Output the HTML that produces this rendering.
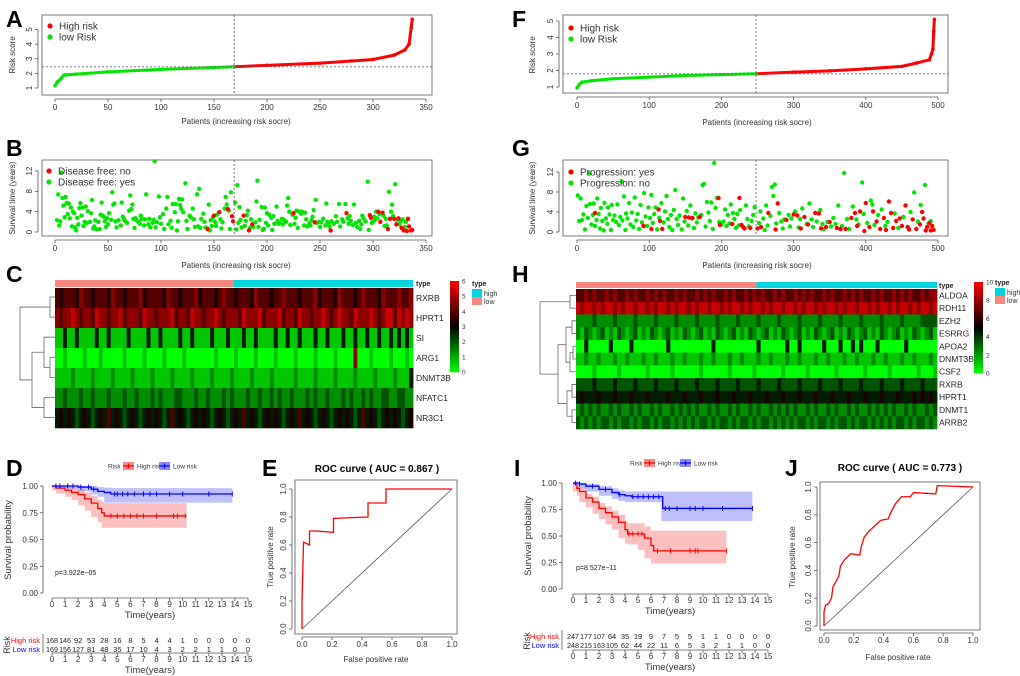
<!DOCTYPE html>
<html><head><meta charset="utf-8"><style>
html,body{margin:0;padding:0;background:#fff;}
svg{display:block;font-family:"Liberation Sans",Arial,sans-serif;}
.t{font-size:8px;fill:#333;}
.L{font-size:23px;font-weight:bold;fill:#000;}
</style></head><body>
<svg id="fig" width="1020" height="676" viewBox="0 0 1020 676" xmlns="http://www.w3.org/2000/svg">
<rect width="1020" height="676" fill="#fff"/>
<text class="L" x="6" y="27">A</text>
<text class="L" x="6" y="156">B</text>
<text class="L" x="6" y="282">C</text>
<text class="L" x="6" y="476">D</text>
<text class="L" x="262" y="476">E</text>
<text class="L" x="512" y="27">F</text>
<text class="L" x="512" y="156">G</text>
<text class="L" x="512" y="282">H</text>
<text class="L" x="514" y="476">I</text>
<text class="L" x="785" y="476">J</text>
<text class="t" x="236" y="124" text-anchor="middle">Patients (increasing risk socre)</text>
<text class="t" x="236" y="268" text-anchor="middle">Patients (increasing risk socre)</text>
<text class="t" x="757" y="125" text-anchor="middle">Patients (increasing risk socre)</text>
<text class="t" x="757" y="268" text-anchor="middle">Patients (increasing risk socre)</text>
<text class="t" transform="translate(15,55) rotate(-90)" text-anchor="middle">Risk score</text>
<text class="t" transform="translate(15,198) rotate(-90)" text-anchor="middle">Survival time (years)</text>
<text class="t" transform="translate(535,55) rotate(-90)" text-anchor="middle">Risk score</text>
<text class="t" transform="translate(535,198) rotate(-90)" text-anchor="middle">Survival time (years)</text>
<text x="377" y="472" font-size="10" font-weight="bold" text-anchor="middle">ROC curve ( AUC =  0.867 )</text>
<text x="900" y="471" font-size="10" font-weight="bold" text-anchor="middle">ROC curve ( AUC =  0.773 )</text>
<text class="t" x="376" y="662" text-anchor="middle">False positive rate</text>
<text class="t" x="898" y="660" text-anchor="middle">False positive rate</text>
<text class="t" transform="translate(273,557) rotate(-90)" text-anchor="middle">True positive rate</text>
<text class="t" transform="translate(795,557) rotate(-90)" text-anchor="middle">True positive rate</text>
<text font-size="9.5" fill="#333" transform="translate(11,540) rotate(-90)" text-anchor="middle">Survival probability</text>
<text font-size="9.5" fill="#333" transform="translate(531,536) rotate(-90)" text-anchor="middle">Survival probability</text>
<text font-size="9.5" fill="#333" x="150" y="618" text-anchor="middle">Time(years)</text>
<text font-size="9.5" fill="#333" x="150" y="673" text-anchor="middle">Time(years)</text>
<text font-size="9.5" fill="#333" x="670" y="614" text-anchor="middle">Time(years)</text>
<text font-size="9.5" fill="#333" x="670" y="670" text-anchor="middle">Time(years)</text>
<text font-size="9" fill="#333" transform="translate(10,645) rotate(-90)" text-anchor="middle">Risk</text>
<text font-size="9" fill="#333" transform="translate(530,641) rotate(-90)" text-anchor="middle">Risk</text>
<text font-size="7" fill="#222" x="55" y="575">p=3.922e−05</text>
<text font-size="7" fill="#222" x="576" y="570">p=8.527e−11</text>
</svg>
<script>
// ===== DATA =====
const aIdx=[0,2,5,8,10,20,50,100,150,169,200,250,280,300,320,330,334,336,337];
const aScore=[1.15,1.4,1.6,1.85,1.9,1.95,2.1,2.27,2.4,2.45,2.55,2.7,2.85,2.95,3.25,3.6,4.0,5.1,5.7];
const aCut=169, aThr=2.45;
const aXTicks=[0,50,100,150,200,250,300,350], aYTicks=[1,2,3,4,5];
const fIdx=[0,3,7,20,50,100,150,200,248,300,350,400,450,470,488,491,493,494,495];
const fScore=[0.95,1.15,1.3,1.38,1.5,1.6,1.7,1.75,1.8,1.9,1.98,2.1,2.25,2.45,2.65,3.0,3.3,4.35,5.1];
const fCut=248, fThr=1.8;
const fXTicks=[0,100,200,300,400,500], fYTicks=[1,2,3,4,5];
const bGreen=[[2,2.3],[3,7.4],[4,1.3],[5,2.1],[6,11.7],[7,6.7],[8,5.2],[9,2.9],[10,6.9],[11,5.7],[12,3.5],[13,5.6],[14,2.7],[15,4.8],[16,1.1],[17,4.0],[18,3.7],[19,0.9],[20,0.3],[21,2.8],[22,1.5],[23,4.7],[24,5.7],[25,3.2],[26,4.8],[27,1.2],[28,2.0],[29,5.0],[30,1.8],[31,4.1],[33,2.0],[34,3.7],[35,6.3],[36,0.7],[37,1.1],[38,2.3],[39,0.5],[41,2.0],[42,0.6],[43,3.4],[44,5.8],[45,3.2],[46,3.0],[47,2.1],[48,1.0],[49,2.7],[50,1.5],[51,3.7],[53,2.4],[54,7.8],[55,5.4],[56,5.6],[57,2.1],[58,0.9],[60,2.3],[62,1.3],[63,5.8],[64,3.0],[65,2.6],[66,2.2],[68,1.8],[70,4.2],[71,7.2],[72,4.5],[73,5.4],[74,2.6],[75,0.8],[76,2.7],[77,2.3],[79,2.0],[80,1.6],[81,3.2],[82,2.6],[84,1.3],[85,2.5],[86,7.4],[88,1.5],[89,2.6],[90,0.9],[92,1.8],[93,2.4],[94,13.9],[95,0.9],[96,1.9],[98,7.0],[99,2.9],[100,1.6],[102,3.5],[103,0.6],[105,4.6],[106,6.9],[107,1.5],[109,2.2],[110,0.8],[111,5.5],[113,3.9],[114,5.5],[115,0.3],[116,2.1],[117,6.5],[118,5.3],[119,4.6],[120,6.4],[121,3.9],[123,9.6],[124,2.2],[125,0.6],[127,3.2],[128,2.9],[130,4.6],[131,2.5],[132,1.0],[134,7.4],[135,1.1],[136,8.5],[137,0.8],[138,2.6],[140,3.6],[141,2.0],[142,0.9],[145,5.4],[146,0.3],[147,2.3],[148,1.2],[149,2.9],[151,2.0],[152,1.2],[153,3.4],[156,2.5],[157,0.7],[158,1.9],[160,4.6],[161,6.9],[162,5.4],[164,4.2],[165,0.6],[166,7.8],[170,5.8],[171,0.5],[172,9.2],[173,1.8],[174,4.9],[175,2.4],[176,0.9],[179,1.2],[180,2.2],[181,3.3],[182,4.2],[184,0.8],[185,2.5],[187,1.0],[189,1.9],[190,6.0],[191,10.1],[192,1.0],[193,2.4],[195,4.9],[196,0.4],[197,0.6],[198,4.8],[199,1.8],[200,3.7],[201,1.3],[202,3.4],[204,2.8],[205,0.4],[206,3.1],[207,1.6],[209,5.0],[210,2.2],[211,1.6],[212,1.8],[214,2.6],[215,1.5],[216,2.4],[218,2.0],[219,5.2],[220,6.7],[221,4.0],[222,1.4],[224,3.4],[226,1.6],[227,2.8],[228,4.2],[229,0.8],[231,4.0],[232,3.6],[233,4.0],[235,1.3],[236,3.8],[237,2.5],[238,1.1],[240,1.7],[241,1.3],[242,2.3],[243,3.0],[244,4.3],[246,6.3],[247,1.8],[249,2.0],[250,1.0],[251,1.9],[253,2.6],[255,1.3],[256,5.6],[257,2.0],[258,1.5],[259,1.1],[261,2.1],[263,1.6],[265,3.1],[266,2.0],[268,5.5],[269,1.1],[271,2.5],[272,2.0],[274,5.5],[276,2.7],[277,1.6],[278,3.1],[279,2.2],[281,1.4],[282,5.4],[284,1.8],[285,1.0],[287,2.2],[288,0.6],[289,1.5],[290,3.2],[291,2.7],[293,2.1],[295,9.9],[296,0.4],[299,1.8],[300,2.0],[301,3.0],[302,2.4],[303,4.0],[304,2.7],[306,3.5],[310,3.2],[311,1.2],[312,2.6],[313,1.3],[315,7.9],[317,4.0],[318,5.4],[319,3.1],[321,9.4],[323,2.4],[325,1.5],[326,2.1],[328,2.5],[330,1.0],[331,2.0]];
const bRed=[[144,0.6],[150,3.2],[155,3.9],[163,4.5],[167,3.1],[168,2.1],[178,3.2],[183,0.3],[186,1.5],[225,3.7],[245,1.9],[260,0.3],[275,3.7],[297,3.3],[298,2.8],[305,4.0],[307,2.0],[309,3.8],[314,0.6],[316,2.6],[320,2.6],[322,1.5],[324,2.7],[327,0.8],[329,0.3],[332,0.2],[333,2.6],[334,1.1],[336,0.3],[337,0.4]];
const bYTicks=[0,4,8,12];
const gGreen=[[1,7.3],[3,2.2],[5,6.7],[7,2.4],[9,3.5],[11,0.5],[13,5.2],[15,2.8],[17,11.7],[18,5.6],[20,1.5],[22,3.4],[23,5.7],[25,1.2],[27,2.4],[28,6.7],[30,3.6],[32,0.7],[33,4.8],[35,2.2],[37,0.3],[38,5.8],[40,2.7],[42,1.6],[43,4.9],[45,3.5],[47,0.4],[48,5.4],[50,2.4],[52,3.3],[54,2.0],[56,5.5],[58,1.4],[60,3.0],[62,10.1],[63,2.3],[65,7.1],[67,0.4],[68,3.7],[70,2.7],[72,5.8],[74,1.5],[76,3.9],[78,1.0],[80,6.9],[82,2.3],[84,3.6],[86,0.6],[88,5.4],[90,1.9],[93,7.8],[95,3.1],[97,1.2],[99,4.9],[101,2.8],[103,7.4],[105,1.8],[107,3.6],[109,4.9],[111,0.5],[114,2.8],[117,5.8],[120,1.9],[122,4.1],[124,7.2],[126,2.6],[128,1.0],[130,3.4],[132,0.4],[134,4.4],[136,8.4],[138,2.6],[140,1.4],[142,3.3],[145,0.5],[147,6.7],[149,2.1],[152,4.2],[154,1.3],[157,5.3],[159,2.7],[162,0.8],[164,3.7],[166,1.9],[168,2.9],[172,3.4],[174,9.4],[176,9.6],[178,1.1],[180,6.0],[182,3.9],[184,2.2],[186,5.9],[188,0.6],[190,13.8],[192,4.8],[194,6.8],[197,2.0],[200,1.5],[203,2.1],[205,4.5],[207,1.2],[209,3.4],[211,1.7],[213,5.5],[216,3.8],[218,2.6],[220,0.8],[222,3.6],[224,1.3],[226,4.4],[234,5.3],[236,2.6],[238,1.1],[242,2.2],[244,3.4],[246,5.0],[252,1.8],[254,4.1],[258,2.7],[260,0.4],[262,5.3],[264,1.3],[268,3.2],[270,9.0],[272,7.2],[274,9.5],[276,1.7],[280,3.8],[283,2.1],[285,0.7],[287,2.5],[293,3.4],[295,1.1],[297,2.7],[302,4.1],[307,0.9],[309,2.6],[312,4.7],[318,1.6],[322,5.7],[325,2.5],[327,1.0],[332,2.1],[337,4.4],[340,1.6],[342,0.6],[347,2.0],[352,1.1],[355,2.8],[358,1.6],[362,5.3],[367,1.2],[370,11.8],[374,2.6],[377,0.6],[382,5.1],[387,2.5],[390,1.5],[395,9.9],[397,3.6],[402,1.8],[407,6.3],[409,5.5],[412,1.4],[417,3.4],[422,4.5],[427,1.2],[430,2.0],[440,3.7],[445,0.8],[452,3.0],[462,4.0],[467,7.9],[472,2.1],[476,5.4],[482,9.4],[487,1.7],[490,2.2]];
const gRed=[[25,3.8],[92,1.2],[103,0.6],[113,4.5],[115,2.2],[118,0.6],[150,3.0],[155,2.9],[160,2.8],[170,3.0],[196,6.8],[198,1.4],[215,1.6],[225,6.8],[228,1.4],[230,1.0],[232,0.7],[240,0.8],[250,0.7],[255,1.0],[265,3.8],[275,0.5],[278,5.7],[290,2.4],[300,3.5],[305,3.3],[310,0.7],[315,3.0],[320,1.5],[330,3.8],[335,3.7],[338,0.7],[345,1.0],[350,2.0],[360,0.8],[365,0.6],[372,0.6],[380,2.8],[385,3.8],[388,1.2],[392,4.1],[398,0.2],[400,5.8],[405,1.0],[410,4.1],[415,2.1],[420,0.6],[425,2.8],[428,0.4],[432,6.1],[435,3.8],[438,0.8],[442,2.2],[447,2.7],[450,1.2],[455,5.3],[458,1.0],[460,0.5],[465,2.5],[470,0.6],[475,1.5],[478,4.0],[480,2.7],[483,0.3],[485,1.0],[488,1.8],[490,0.3],[492,1.2],[494,0.4]];
const gXTicks=[0,100,200,300,400,500];
const cGenes=["RXRB","HPRT1","SI","ARG1","DNMT3B","NFATC1","NR3C1"];
const cRows=[
"656665766566657665666756666576656667566656766566657666566766656667566657666567666576667667",
"767787677687767786777687767778677687767787677768777867778677687767787678776877787678868787",
"114114111141141111411114114111141141111411141114114111141141141114114111411411411411414141",
"001000010001000001000010000100001000000010000100001000010000100001000010000700010000100010",
"111121111211112111121111211112111121111211112111121111211111211112111121111211112111121114",
"223222322322232223223222323222332223223222323222322322323223222323223222323223232233223322",
"454543454345464543454345454346454345454345434546454345454345464543454345454346454345454345"];
const cMax=6;
const cLegendTicks=[0,1,2,3,4,5,6];
const hGenes=["ALDOA","RDH11","EZH2","ESRRG","APOA2","DNMT3B","CSF2","RXRB","HPRT1","DNMT1","ARRB2"];
const hRows=[
"6676766767667676676767667676676767667676676767667676676767667676676767667676676767667677",
"8788787887878878878788787887878878878788787887878878878788787887878878878788787887878878",
"2222322223222232222322223222232222322223222232222322223222232222322223222232222322223333",
"2132123121321231213212312132123121321231213212312132123121321231213212312132123121321231",
"0040000040000400000000400000000004000000000040000004004000004000400404000400000040000000",
"1121121112112111211211121121112112111211211121121112112111211211121121112112111211211121",
"0000100000100000010000010000001000000100000100000010000010000001000000100000100000010001",
"3333433334333343333433334333343333433334333343333433334333343333433334333343333433334333",
"4544454445444544454444544454445444544454445444544454445444544454445444544454445444545454",
"2323232232322323223232232323232232322323223232232323232232322323223232232323232232322323",
"3232323323233232332323323232323323233232332323323232323323233232332323323232323323233232"];
const hMax=10;
const hLegendTicks=[0,2,4,6,8,10];
const dHiT=[0,0.3,1,1.5,2,2.5,3,3.5,3.8,4,10.3];
const dHiS=[1,0.98,0.96,0.94,0.92,0.88,0.84,0.79,0.75,0.72,0.72];
const dHiLo=[1,0.96,0.93,0.9,0.87,0.82,0.77,0.71,0.66,0.61,0.61];
const dHiUp=[1,1,0.99,0.98,0.97,0.94,0.91,0.87,0.85,0.84,0.84];
const dLoT=[0,1,2,3,3.5,4,4.5,13.8];
const dLoS=[1,1,0.99,0.97,0.95,0.94,0.925,0.925];
const dLoLo=[1,0.99,0.975,0.95,0.92,0.9,0.845,0.845];
const dLoUp=[1,1,1,1,0.99,0.985,0.98,0.98];
const dHiCens=[4.5,5,5.5,6,6.5,7,8,9.3,9.6,10.2];
const dLoCens=[0.3,0.6,1.2,1.6,2.2,2.8,3.2,4.8,5,5.4,5.8,6.3,7,7.5,8,9,10,12,13.8];
const dTabHi=[168,146,92,53,28,16,8,5,4,4,1,0,0,0,0,0];
const dTabLo=[169,156,127,81,48,35,17,10,4,3,2,2,1,1,0,0];
const iHiT=[0,0.3,0.5,1,1.5,2,2.5,3,3.5,4,4.2,5,5.5,6,6.2,11.8];
const iHiS=[1,0.95,0.92,0.86,0.82,0.76,0.72,0.68,0.63,0.56,0.52,0.52,0.48,0.41,0.36,0.36];
const iHiLo=[1,0.92,0.88,0.82,0.77,0.71,0.66,0.61,0.56,0.48,0.43,0.42,0.37,0.29,0.24,0.24];
const iHiUp=[1,0.98,0.96,0.9,0.87,0.81,0.78,0.74,0.7,0.64,0.62,0.62,0.59,0.55,0.55,0.55];
const iLoT=[0,0.5,1,2,3,3.5,4,4.5,6.8,6.9,13.8];
const iLoS=[1,0.99,0.97,0.94,0.91,0.89,0.88,0.87,0.87,0.76,0.76];
const iLoLo=[1,0.98,0.95,0.92,0.88,0.85,0.83,0.82,0.82,0.64,0.64];
const iLoUp=[1,1,0.99,0.97,0.95,0.93,0.92,0.92,0.92,0.92,0.92];
const iHiCens=[4.3,4.6,5,5.3,6.5,7.5,9,9.4,9.6,11.8];
const iLoCens=[0.2,0.5,1.5,2.5,3.6,4.6,5,5.4,5.8,6.2,6.6,7.1,7.4,8,9,9.4,10,11.5,13.8];
const iTabHi=[247,177,107,64,35,19,9,7,5,5,1,1,0,0,0,0];
const iTabLo=[248,215,163,105,62,44,22,11,6,5,3,2,1,1,0,0];
const kmYTicks=[0,0.25,0.5,0.75,1];
const kmYLabels=["0.00","0.25","0.50","0.75","1.00"];
const kmXTicks=[0,1,2,3,4,5,6,7,8,9,10,11,12,13,14,15];
const eFpr=[0,0,0.005,0.01,0.05,0.05,0.1,0.21,0.21,0.44,0.44,0.56,0.56,1];
const eTpr=[0,0.2,0.4,0.62,0.6,0.7,0.7,0.69,0.79,0.8,0.9,0.9,1.0,1];
const jFpr=[0,0,0.01,0.03,0.05,0.06,0.08,0.1,0.11,0.14,0.18,0.24,0.25,0.27,0.3,0.34,0.38,0.43,0.45,0.48,0.52,0.58,0.6,0.75,0.76,1];
const jTpr=[0,0.1,0.15,0.16,0.2,0.28,0.32,0.36,0.43,0.48,0.52,0.51,0.57,0.64,0.68,0.72,0.76,0.77,0.82,0.88,0.93,0.93,0.96,0.95,1.01,1];
const rocTicks=[0,0.2,0.4,0.6,0.8,1];

// ===== DRAWING =====
const NS='http://www.w3.org/2000/svg';
const svg=document.getElementById('fig');
function el(tag,attrs,txt){const e=document.createElementNS(NS,tag);for(const k in attrs)e.setAttribute(k,attrs[k]);if(txt!=null)e.textContent=txt;svg.appendChild(e);return e;}
function lin(d0,d1,r0,r1){return v=>r0+(v-d0)*(r1-r0)/(d1-d0);}
function fmt1(v){return v.toFixed(1);}

function box(x0,y0,x1,y1,name){
  const b=el('rect',{x:x0,y:y0,width:x1-x0,height:y1-y0,fill:'none',stroke:'#555','stroke-width':0.8});
  
  
}
function xAxisBase(ticks,sx,yLine,yLab,name,labels,fs){
  const ln=el('line',{x1:sx(ticks[0]),x2:sx(ticks[ticks.length-1]),y1:yLine,y2:yLine,stroke:'#555','stroke-width':0.8});
  
  
  ticks.forEach((t,i)=>{
    const tk=el('line',{x1:sx(t),x2:sx(t),y1:yLine,y2:yLine+3,stroke:'#555','stroke-width':0.8});
    
    
    const tl=el('text',{x:sx(t),y:yLab,'text-anchor':'middle','class':'t','font-size':fs||8},labels?labels[i]:String(t));
    
    
  });
}
function yAxisBase(ticks,sy,xLine,name,labels,rot){
  const ln=el('line',{x1:xLine,x2:xLine,y1:sy(ticks[0]),y2:sy(ticks[ticks.length-1]),stroke:'#555','stroke-width':0.8});
  
  
  ticks.forEach((t,i)=>{
    const tk=el('line',{x1:xLine-3,x2:xLine,y1:sy(t),y2:sy(t),stroke:'#555','stroke-width':0.8});
    
    
    const lab=labels?labels[i]:String(t);
    let tl;
    if(rot) tl=el('text',{transform:`translate(${xLine-6},${sy(t)}) rotate(-90)`,'text-anchor':'middle','class':'t'},lab);
    else tl=el('text',{x:xLine-5,y:sy(t)+3,'text-anchor':'end','class':'t'},lab);
    
    
  });
}
function legend2(x,y,c1,t1,c2,t2,name,r){
  const d1=el('circle',{cx:x,cy:y,r:r,fill:c1});
  
  
  const l1=el('text',{x:x+9,y:y+3.5,'font-size':10,fill:'#333'},t1);
  
  
  const d2=el('circle',{cx:x,cy:y+11,r:r,fill:c2});
  
  
  const l2=el('text',{x:x+9,y:y+14.5,'font-size':10,fill:'#333'},t2);
  
  
}

function riskPanel(idx,score,cut,thr,xt,yt,sx,sy,bx,name){
  box(bx[0],bx[1],bx[2],bx[3],name+'-plot-frame');
  xAxisBase(xt,sx,bx[3]+4,bx[3]+15,name+'-x-axis');
  yAxisBase(yt,sy,bx[0]-4,name+'-y-axis',null,true);
  const gPts=[],rPts=[];
  idx.forEach((v,i)=>{(v<=cut?gPts:rPts).push(sx(v)+','+sy(score[i]));});
  rPts.unshift(gPts[gPts.length-1]);
  const pg=el('polyline',{points:gPts.join(' '),fill:'none',stroke:'#00e600','stroke-width':3,'stroke-linejoin':'round','stroke-linecap':'round'});
  
  
  const pr=el('polyline',{points:rPts.join(' '),fill:'none',stroke:'#f00','stroke-width':3,'stroke-linejoin':'round','stroke-linecap':'round'});
  
  
  idx.forEach((v,i)=>{
    const c=el('circle',{cx:sx(v),cy:sy(score[i]),r:1.8,fill:v<=cut?'#00e600':'#f00'});
    
    
  });
  const h=el('line',{x1:bx[0],x2:bx[2],y1:sy(thr),y2:sy(thr),stroke:'#666','stroke-dasharray':'2,2','stroke-width':0.9});
  
  
  const v=el('line',{x1:sx(cut),x2:sx(cut),y1:bx[1],y2:bx[3],stroke:'#666','stroke-dasharray':'2,2','stroke-width':0.9});
  
  
}
const sxA=lin(0,350,55,426), syA=lin(1,5,88,29.5);
riskPanel(aIdx,aScore,aCut,aThr,aXTicks,aYTicks,sxA,syA,[42,15,432,95],'a');
legend2(50,26,'#f00','High risk','#00e600','low Risk','a-legend',2.6);
const sxF=lin(0,500,577,938), syF=lin(1,5,87,21);
riskPanel(fIdx,fScore,fCut,fThr,fXTicks,fYTicks,sxF,syF,[563,15,948,93],'f');
legend2(571,28,'#f00','High risk','#00e600','low Risk','f-legend',2.6);

function survPanel(green,red,cut,xt,sx,sy,bx,name){
  box(bx[0],bx[1],bx[2],bx[3],name+'-plot-frame');
  xAxisBase(xt,sx,bx[3]+4,bx[3]+15,name+'-x-axis');
  yAxisBase(bYTicks,sy,bx[0]-4,name+'-y-axis',null,true);
  green.forEach(p=>{
    const c=el('circle',{cx:sx(p[0]),cy:sy(p[1]),r:2.2,fill:'#00e600'});
    
    
  });
  red.forEach(p=>{
    const c=el('circle',{cx:sx(p[0]),cy:sy(p[1]),r:2.2,fill:'#f00'});
    
    
  });
  const v=el('line',{x1:sx(cut),x2:sx(cut),y1:bx[1],y2:bx[3],stroke:'#666','stroke-dasharray':'2,2','stroke-width':0.9});
  
  
}
survPanel(bGreen,bRed,aCut,aXTicks,sxA,lin(0,12,232,171),[42,160,432,236],'b');
legend2(49,171,'#f00','Disease free: no','#00e600','Disease free: yes','b-legend',2.6);
survPanel(gGreen,gRed,fCut,gXTicks,sxF,lin(0,12,232,172),[563,160,948,236],'g');
legend2(571,172,'#f00','Progression: yes','#00e600','Progression: no','g-legend',2.6);

function heatColor(v,max){
  const mid=max/2;
  if(v<=mid){const t=v/mid;return `rgb(0,${Math.round(255*(1-t))},0)`;}
  const t=Math.min(1,(v-mid)/mid);return `rgb(${Math.round(255*t)},0,0)`;
}
function heatmap(genes,rows,max,x0,x1,yType,y0,y1,labX,name){
  const tb1=el('rect',{x:x0,y:yType,width:(x1-x0)/2,height:y0-yType-1,fill:'#f8877f'});
  
  
  const tb2=el('rect',{x:(x0+x1)/2,y:yType,width:(x1-x0)/2,height:y0-yType-1,fill:'#00d5de'});
  
  
  const tt=el('text',{x:labX,y:yType+6,'font-size':7,'font-weight':'bold',fill:'#222'},'type');
  
  
  const rh=(y1-y0)/rows.length;
  rows.forEach((r,ri)=>{
    const cw=(x1-x0)/r.length;
    for(let ci=0;ci<r.length;ci++){
      const v=+r[ci]/9*max;
      const c=el('rect',{x:x0+ci*cw,y:y0+ri*rh,width:cw+0.4,height:rh+0.3,fill:heatColor(v,max)});
      
      
    }
    const gl=el('text',{x:labX,y:y0+ri*rh+rh/2+3,'font-size':8.5,fill:'#222'},genes[ri]);
    
    
  });
}
heatmap(cGenes,cRows,cMax,55,413,280,288,428,416,'c');
heatmap(hGenes,hRows,hMax,576,937,282,289,429,939,'h');

function colorbar(x,y0,y1,max,ticks,name){
  const n=40,h=(y1-y0)/n;
  for(let i=0;i<n;i++){
    const v=max*(1-(i+0.5)/n);
    const r=el('rect',{x:x,y:y0+i*h,width:9,height:h+0.3,fill:heatColor(v,max)});
    
    
  }
  ticks.forEach(t=>{
    const tl=el('text',{x:x+12,y:y1-(t/max)*(y1-y0)+2.5,'font-size':6.5,fill:'#333'},String(t));
    
    
  });
}
colorbar(450,281,372,cMax,cLegendTicks,'c');
colorbar(974,282,373,hMax,hLegendTicks,'h');
function typeLegend(x,y,name){
  const t=el('text',{x:x,y:y,'font-size':7,'font-weight':'bold',fill:'#222'},'type');
  
  
  const a=el('rect',{x:x,y:y+3,width:10,height:8,fill:'#00d5de'});
  
  
  const at=el('text',{x:x+12,y:y+10,'font-size':7,fill:'#333'},'high');
  
  
  const b=el('rect',{x:x,y:y+11,width:10,height:8,fill:'#f8877f'});
  
  
  const bt=el('text',{x:x+12,y:y+18,'font-size':7,fill:'#333'},'low');
  
  
}
typeLegend(472,286,'c');
typeLegend(995,285,'h');

function dend(d,name){
  const p=el('path',{d:d,fill:'none',stroke:'#666','stroke-width':0.8});
  
  
}
{const c=i=>287+20.1*i+10;
dend(`M55 ${c(0)}H50V${c(1)}H55 M55 ${c(3)}H50V${c(4)}H55 M55 ${c(2)}H44V${(c(3)+c(4))/2}H50 M55 ${c(5)}H44V${c(6)}H55 M44 ${(c(2)+(c(3)+c(4))/2)/2}H32V${(c(5)+c(6))/2}H44 M50 ${(c(0)+c(1))/2}H20V${(c(5)+c(6))/2*0.5+(c(2)+(c(3)+c(4))/2)/4}H32`,'c-row-dendrogram');}
{const h=140/11,c=i=>289+h*i+h/2;
const g1=(c(2)+c(3))/2,g2=(c(4)+c(5))/2,g3=(g2+c(6))/2,g4=(g1+g3)/2;
const r1=(c(7)+c(8))/2,r2=(c(9)+c(10))/2,r3=(r1+r2)/2,all=(g4+r3)/2,top=(c(0)+c(1))/2;
dend(`M576 ${c(0)}H570V${c(1)}H576 M576 ${c(2)}H572V${c(3)}H576 M576 ${c(4)}H573V${c(5)}H576 M573 ${g2}H570V${c(6)}H576 M572 ${g1}H566V${g3}H570 M576 ${c(7)}H572V${c(8)}H576 M576 ${c(9)}H572V${c(10)}H576 M572 ${r1}H567V${r2}H572 M566 ${g4}H558V${r3}H567 M570 ${top}H540V${all}H558`,'h-row-dendrogram');}

function stepPath(T,S,sx,sy){let d=`M${sx(T[0])} ${sy(S[0])}`;for(let i=1;i<T.length;i++)d+=`H${sx(T[i])}V${sy(S[i])}`;return d;}
function bandPath(T,L,U,sx,sy){
  let d=`M${sx(T[0])} ${sy(U[0])}`;for(let i=1;i<T.length;i++)d+=`H${sx(T[i])}V${sy(U[i])}`;
  d+=`V${sy(L[L.length-1])}`;for(let i=T.length-1;i>0;i--)d+=`V${sy(L[i])}H${sx(T[i-1])}`;
  return d+'Z';
}
function stepVal(T,S,t){let v=S[0];for(let i=0;i<T.length;i++)if(T[i]<=t)v=S[i];return v;}
function kmCurve(T,S,L,U,cens,col,fill,sx,sy,name){
  const b=el('path',{d:bandPath(T,L,U,sx,sy),fill:fill,'fill-opacity':0.55,stroke:'none'});
  
  
  const l=el('path',{d:stepPath(T,S,sx,sy),fill:'none',stroke:col,'stroke-width':1.3});
  
  
  cens.forEach(t=>{
    const y=sy(stepVal(T,S,t));
    const m=el('line',{x1:sx(t),x2:sx(t),y1:y-2.5,y2:y+2.5,stroke:col,'stroke-width':1});
    
    
  });
}
function kmPanel(p){
  const sx=lin(0,15,p.x0,p.x15), sy=lin(0,1,p.y0,p.y1);
  yAxisBase(kmYTicks,sy,p.ax,p.name+'-y-axis',kmYLabels,false);
  xAxisBase(kmXTicks,sx,p.bx,p.bx+9,p.name+'-x-axis',null,7.5);
  kmCurve(p.hT,p.hS,p.hL,p.hU,p.hC,'#f00','#f98a8a',sx,sy,p.name+'-high-risk');
  kmCurve(p.lT,p.lS,p.lL,p.lU,p.lC,'#00f','#8a8af5',sx,sy,p.name+'-low-risk');
  const lg=p.lg;
  const t0=el('text',{x:lg[0],y:lg[1]+2.5,'font-size':6.5,fill:'#333'},'Risk');
  
  
  [['#f98a8a','#f00','High risk',lg[2]],['#8a8af5','#00f','Low risk',lg[3]]].forEach(q=>{
    const r=el('rect',{x:q[3],y:lg[1]-4,width:11,height:8,fill:q[0]});
    
    
    const ln=el('path',{d:`M${q[3]} ${lg[1]}h11M${q[3]+5.5} ${lg[1]-2.5}v5`,stroke:q[1],'stroke-width':1.2});
    
    
    const tx=el('text',{x:q[3]+14,y:lg[1]+2.5,'font-size':6.5,fill:'#333'},q[2]);
    
    
  });
  const la=el('line',{x1:p.ax,x2:p.ax,y1:p.r1-6,y2:p.tb,stroke:'#555','stroke-width':0.8});
  
  
  [[p.tabH,'#f00','High risk',p.r1],[p.tabL,'#00f','Low risk',p.r2]].forEach(q=>{
    const lab=el('text',{x:p.ax-3,y:q[3]+3,'text-anchor':'end','font-size':7.5,fill:q[1]},q[2]);
    
    
    q[0].forEach((n,i)=>{
      const tx=el('text',{x:sx(kmXTicks[i]),y:q[3]+3,'text-anchor':'middle','font-size':7.5,'textLength':n>=100?12:null,fill:'#222'},String(n));
      if(n<100) tx.removeAttribute('textLength'); else tx.setAttribute('lengthAdjust','spacingAndGlyphs');
      
      
    });
  });
  xAxisBase(kmXTicks,sx,p.tb,p.tb+9,p.name+'-table-x-axis',null,7.5);
}
kmPanel({name:'d',x0:52,x15:248,y0:593,y1:486,ax:43,bx:598,hT:dHiT,hS:dHiS,hL:dHiLo,hU:dHiUp,hC:dHiCens,lT:dLoT,lS:dLoS,lL:dLoLo,lU:dLoUp,lC:dLoCens,lg:[108,466,123,159],tabH:dTabHi,tabL:dTabLo,r1:640,r2:649,tb:653});
kmPanel({name:'i',x0:573,x15:768,y0:589,y1:483,ax:562,bx:594,hT:iHiT,hS:iHiS,hL:iHiLo,hU:iHiUp,hC:iHiCens,lT:iLoT,lS:iLoS,lL:iLoLo,lU:iLoUp,lC:iLoCens,lg:[630,463,644,680],tabH:iTabHi,tabL:iTabLo,r1:636,r2:645,tb:650});

function rocPanel(fpr,tpr,sx,sy,bx,name){
  box(bx[0],bx[1],bx[2],bx[3],name+'-plot-frame');
  xAxisBase(rocTicks,sx,bx[3]+3,bx[3]+13,name+'-x-axis',rocTicks.map(fmt1));
  yAxisBase(rocTicks,sy,bx[0]-3,name+'-y-axis',rocTicks.map(fmt1),true);
  const d=el('line',{x1:sx(0),y1:sy(0),x2:sx(1),y2:sy(1),stroke:'#555','stroke-width':0.8});
  
  
  const pts=fpr.map((f,i)=>sx(f)+','+sy(tpr[i])).join(' ');
  const l=el('polyline',{points:pts,fill:'none',stroke:'#f00','stroke-width':1.3});
  
  
}
rocPanel(eFpr,eTpr,lin(0,1,302,452),lin(0,1,629,489),[295,480,457,634],'e');
rocPanel(jFpr,jTpr,lin(0,1,824,973),lin(0,1,626,487),[820,482,980,630],'j');
</script>
</body></html>
